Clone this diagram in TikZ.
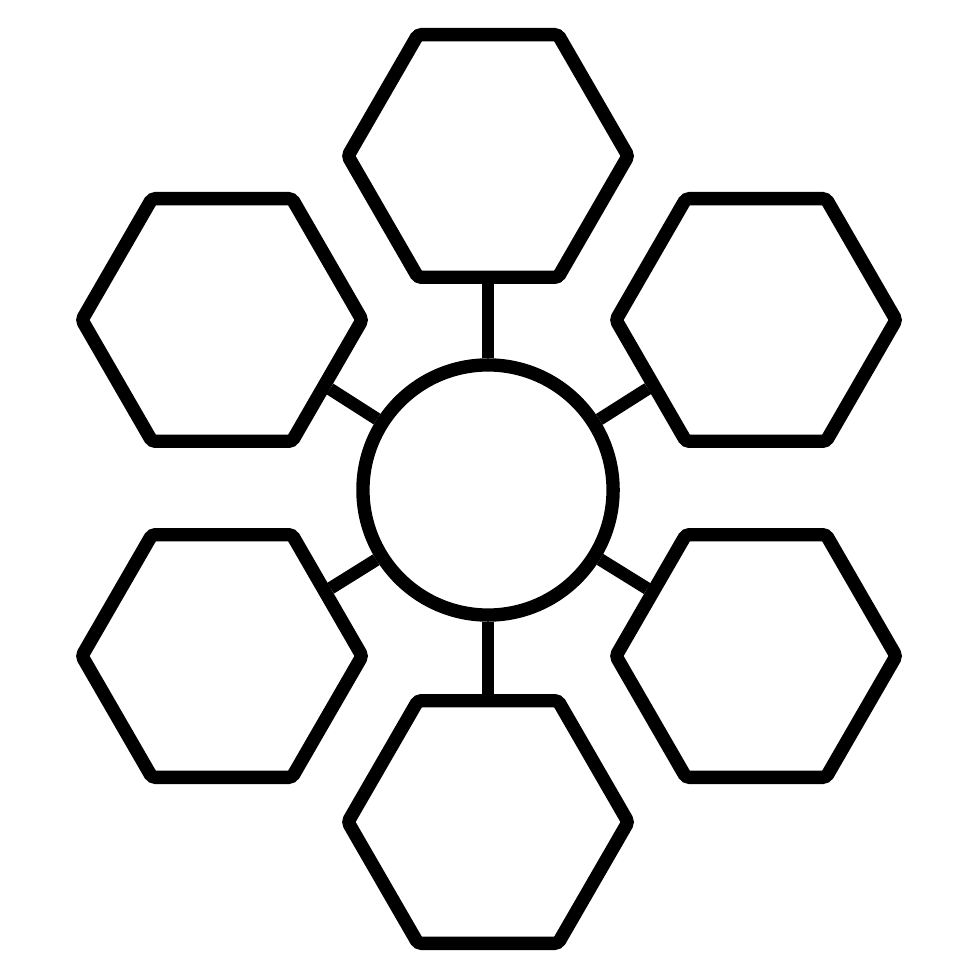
\documentclass[tikz,border=0pt]{standalone}
\usetikzlibrary{shapes.geometric}
\begin{document}
\begin{tikzpicture}[x=0.01cm,y=-0.01cm]
      % Define styles for nodes
      \tikzstyle{hexa} = [draw, regular polygon, regular polygon sides=6,
      minimum size=2.8cm, inner sep=0pt, line width=3.8pt,
      rounded corners=1pt, fill=white]
      \tikzstyle{hub} = [draw, circle, minimum size=2.5cm, inner sep=0pt,
      line width=3.8pt, fill=white]
      \tikzstyle{spoke} = [line width=3.6pt]

      \useasboundingbox[fill=white] (0,0) rectangle (980,980);

      % Centre circle
      \node[hub] (centre) at (488,490) {};

      % Define the hexagons around it
      \node[hexa] (top) at (488,156) {};
      \node[hexa] (topleft) at (222,320) {};
      \node[hexa] (topright) at (756,320) {};
      \node[hexa] (botleft) at (222,656) {};
      \node[hexa] (botright) at (756,656) {};
      \node[hexa] (bottom) at (488,822) {};

      % Connections
      \draw[spoke] (centre) -- (top);
      \draw[spoke] (centre) -- (topleft);
      \draw[spoke] (centre) -- (topright);
      \draw[spoke] (centre) -- (botleft);
      \draw[spoke] (centre) -- (botright);
      \draw[spoke] (centre) -- (bottom);
    \end{tikzpicture}
\end{document}
